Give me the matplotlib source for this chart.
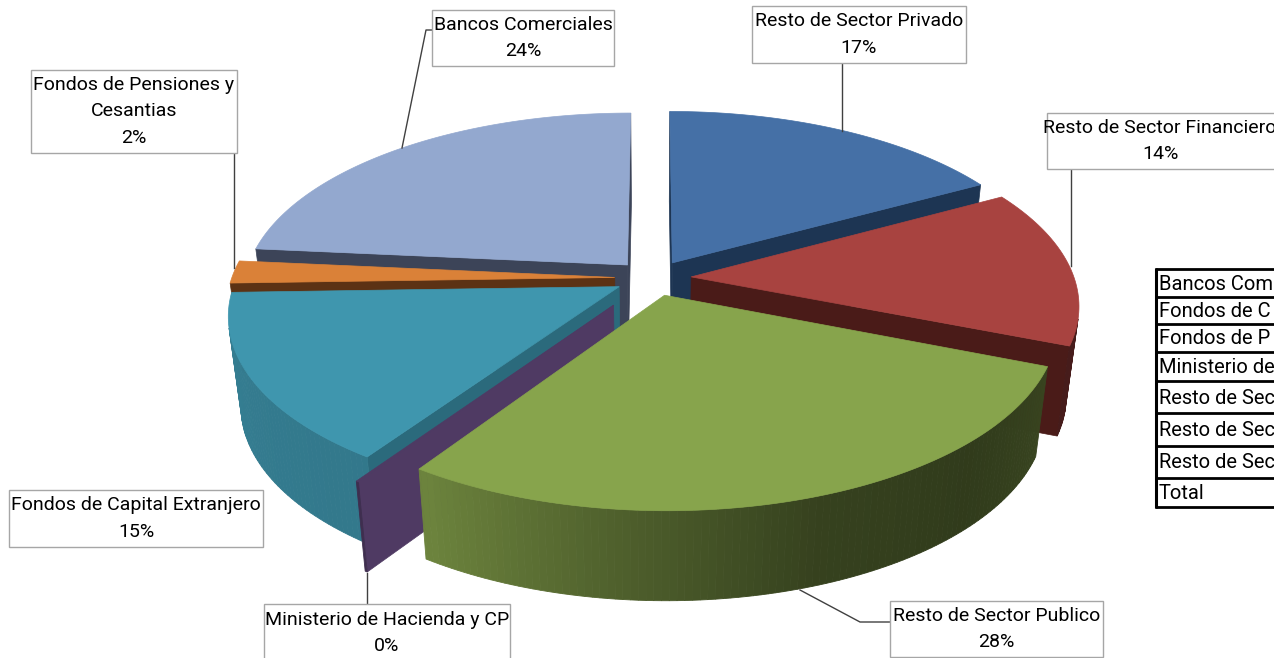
#!/usr/bin/env python3
"""Torta 3D separada: tenencias por sector, dibujada con poligonos"""

import numpy as np
import matplotlib
matplotlib.use('Agg')
import matplotlib.pyplot as plt
from matplotlib.patches import Polygon, Rectangle

# datos (% en sentido horario desde arriba)
sectores = ['Resto de Sector Privado', 'Resto de Sector Financiero', 'Resto de Sector Publico',
            'Ministerio de Hacienda y CP', 'Fondos de Capital Extranjero',
            'Fondos de Pensiones y\nCesantias', 'Bancos Comerciales']
valores = [17, 14, 28.4, 0.1, 15, 2, 23.5]
etiquetas_pct = ['17%', '14%', '28%', '0%', '15%', '2%', '24%']

# la tabla sale cortada por el borde derecho de la imagen
filas_tabla = ['Bancos Com', 'Fondos de C', 'Fondos de P', 'Ministerio de',
               'Resto de Sec', 'Resto de Sec', 'Resto de Sec', 'Total']

# estilo por porcion
color_tapa = ['#4570a6', '#a84340', '#87a44c', '#4f3a63', '#3f96ae', '#da8138', '#93a8cf']
color_corte = ['#1d3553', '#4a1b18', '#3a4a1f', '#4f3a63', '#2b6a7c', '#5c3214', '#3c4458']
separacion = [0.1, 0.1, 0.1, 0.18, 0.1, 0.1, 0.1]
orden = [6, 0, 5, 1, 4, 3, 2]

# sombreado de la pared exterior segun el angulo
ang_luz = [60, 110, 135, 160, 185, 212, 240, 270, 360]
fac_luz = [0.42, 0.42, 0.36, 0.40, 0.58, 0.80, 0.82, 0.85, 0.85]

# proyeccion en pixeles
CX, CY = 653, 278
RX, RY = 383, 178
K = 0.148
PROF = 90
ENC = 0.03


def proyectar(u, v, z):
    s = 1 / (1 + K * v)
    x = CX + RX * u * s * (1 - ENC * z)
    y = CY - RY * v * s + PROF * z
    return x, y


def oscurecer(color, f):
    rgb = np.array(matplotlib.colors.to_rgb(color))
    return tuple(rgb * f)


def visible(pts):
    pts = np.array(pts)
    x, y = pts[:, 0], pts[:, 1]
    return np.sum(x * np.roll(y, -1) - np.roll(x, -1) * y) < 0


def dibujar_porcion(ax, t0, t1, sep, tapa, corte):
    medio = np.radians((t0 + t1) / 2)
    du, dv = sep * np.sin(medio), sep * np.cos(medio)
    angs = np.radians(np.arange(t0, t1, 1.0).tolist() + [t1])
    us = du + np.sin(angs)
    vs = dv + np.cos(angs)

    # paredes de corte
    pared0 = [proyectar(du, dv, 0), proyectar(us[0], vs[0], 0), proyectar(us[0], vs[0], 1), proyectar(du, dv, 1)]
    pared1 = [proyectar(du, dv, 1), proyectar(us[-1], vs[-1], 1), proyectar(us[-1], vs[-1], 0), proyectar(du, dv, 0)]
    for pared in (pared0, pared1):
        if visible(pared):
            ax.add_patch(Polygon(pared, closed=True, fc=corte, ec=corte, lw=0.5))

    # pared exterior por tramos
    for i in range(len(angs) - 1):
        quad = [proyectar(us[i], vs[i], 0), proyectar(us[i + 1], vs[i + 1], 0),
                proyectar(us[i + 1], vs[i + 1], 1), proyectar(us[i], vs[i], 1)]
        if visible(quad):
            f = np.interp(np.degrees(angs[i]), ang_luz, fac_luz)
            c = oscurecer(tapa, f)
            ax.add_patch(Polygon(quad, closed=True, fc=c, ec=c, lw=0.6))

    # tapa
    arco = [proyectar(a, b, 0) for a, b in zip(us, vs)]
    ax.add_patch(Polygon([proyectar(du, dv, 0)] + arco, closed=True, fc=tapa, ec=tapa, lw=0.5))


def caja(ax, x0, y0, x1, y1, txt, cx=None, cy=None):
    ax.add_patch(Rectangle((x0, y0), x1 - x0, y1 - y0, fc='white', ec='#a6a6a6', lw=1.0, zorder=5))
    if cx is None:
        cx = (x0 + x1) / 2
    if cy is None:
        cy = (y0 + y1) / 2
    ax.text(cx, cy, txt, ha='center', va='center', fontsize=FS, color='black',
            linespacing=1.62, zorder=6)


FS = 14
plt.rcParams['font.family'] = ['Roboto', 'Liberation Sans', 'DejaVu Sans']

fig = plt.figure(figsize=(12.74, 6.58), dpi=100)
ax = fig.add_axes([0, 0, 1, 1])
ax.set_xlim(0, 1274)
ax.set_ylim(658, 0)
ax.axis('off')

# torta
total = sum(valores)
cortes = np.concatenate([[0], np.cumsum(valores)]) / total * 360
for i in orden:
    dibujar_porcion(ax, cortes[i], cortes[i + 1], separacion[i], color_tapa[i], color_corte[i])

# lineas guia
guias = [[(842, 63), (842, 131)],
         [(1071, 169), (1071, 266)],
         [(890, 622), (860, 622), (800, 590)],
         [(367, 573), (367, 604)],
         [(234, 153), (234, 268)],
         [(432, 30), (426, 30), (402, 148)]]
for g in guias:
    g = np.array(g)
    ax.plot(g[:, 0], g[:, 1], color='#404040', lw=1.0, zorder=4)

# cajas de etiquetas, mismo orden que sectores
cajas = [(752, 6, 966, 63, None), (1047, 113, 1290, 169, 1160), (890, 601, 1103, 657, None),
         (264, 604, 510, 670, 387), (9, 490, 263, 547, None), (31, 70, 237, 153, None),
         (432, 10, 614, 66, None)]
for (x0, y0, x1, y1, cx), nom, pct in zip(cajas, sectores, etiquetas_pct):
    cy = 633 if nom.startswith('Ministerio') else None
    caja(ax, x0, y0, x1, y1, nom + '\n' + pct, cx, cy)

# tabla cortada por el borde derecho
lineas_y = [269, 297, 324, 352, 381, 413, 446, 478, 507]
for y in lineas_y:
    ax.plot([1155, 1290], [y, y], color='black', lw=2.0, solid_capstyle='butt')
ax.plot([1155.5, 1155.5], [268, 508], color='black', lw=2.2, solid_capstyle='butt')
for fila, y0, y1 in zip(filas_tabla, lineas_y[:-1], lineas_y[1:]):
    ax.text(1159, (y0 + y1) / 2 + 1, fila, ha='left', va='center', fontsize=14.5, color='black')

fig.savefig('out.png', dpi=100)
